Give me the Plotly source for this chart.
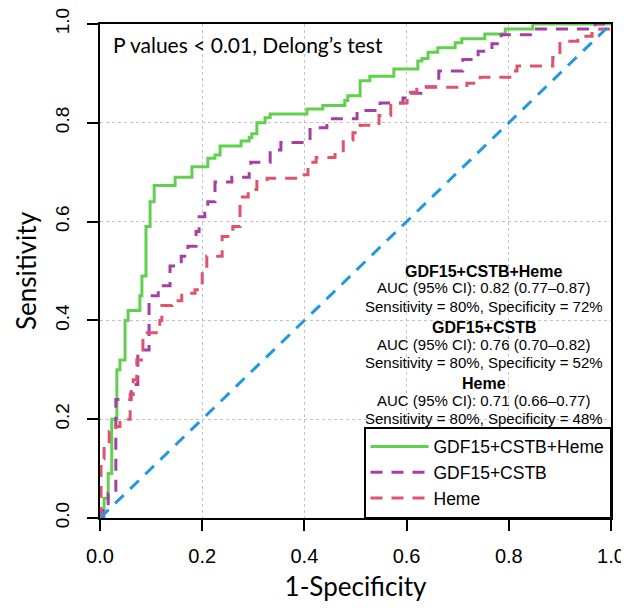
import plotly.graph_objects as go

# ROC step curves (1-Specificity, Sensitivity)
combo3_fpr = [0, 0.008, 0.016, 0.023, 0.033, 0.039, 0.049, 0.055, 0.078, 0.082, 0.090, 0.098,
              0.106, 0.147, 0.180, 0.211, 0.225, 0.235, 0.276, 0.292, 0.297, 0.307, 0.323,
              0.333, 0.405, 0.436, 0.479, 0.485, 0.509, 0.528, 0.575, 0.622, 0.630, 0.642,
              0.661, 0.695, 0.708, 0.753, 0.793, 0.847, 1.0]
combo3_tpr = [0, 0.04, 0.09, 0.20, 0.30, 0.32, 0.40, 0.42, 0.45, 0.49, 0.59, 0.64,
              0.673, 0.69, 0.711, 0.728, 0.735, 0.753, 0.763, 0.77, 0.778, 0.80, 0.81,
              0.818, 0.828, 0.835, 0.845, 0.855, 0.885, 0.894, 0.909, 0.925, 0.93, 0.943,
              0.952, 0.962, 0.97, 0.98, 0.99, 1.0, 1.0]

combo2_fpr = [0, 0.006, 0.016, 0.031, 0.061, 0.074, 0.096, 0.114, 0.137, 0.159, 0.172, 0.188,
              0.194, 0.205, 0.211, 0.225, 0.258, 0.292, 0.295, 0.333, 0.354, 0.411, 0.444,
              0.503, 0.548, 0.593, 0.607, 0.628, 0.663, 0.710, 0.740, 0.767, 0.785, 0.847,
              0.969, 1.0]
combo2_tpr = [0, 0.02, 0.05, 0.24, 0.27, 0.34, 0.45, 0.47, 0.51, 0.53, 0.55, 0.58,
              0.61, 0.625, 0.64, 0.68, 0.69, 0.70, 0.72, 0.745, 0.76, 0.79, 0.808,
              0.825, 0.84, 0.85, 0.86, 0.873, 0.905, 0.928, 0.945, 0.96, 0.978, 0.99,
              1.0, 1.0]

heme_fpr = [0, 0.002, 0.008, 0.018, 0.031, 0.039, 0.059, 0.065, 0.072, 0.084, 0.117, 0.121,
            0.141, 0.160, 0.186, 0.200, 0.209, 0.239, 0.260, 0.274, 0.290, 0.307, 0.327,
            0.391, 0.407, 0.423, 0.460, 0.476, 0.495, 0.509, 0.546, 0.569, 0.601, 0.620,
            0.718, 0.744, 0.802, 0.816, 0.886, 0.900, 0.935, 0.963, 0.978, 1.0]
heme_tpr = [0, 0.12, 0.15, 0.175, 0.185, 0.20, 0.25, 0.28, 0.32, 0.375, 0.40, 0.43,
            0.44, 0.455, 0.462, 0.50, 0.53, 0.57, 0.59, 0.65, 0.665, 0.685, 0.688,
            0.695, 0.72, 0.73, 0.74, 0.765, 0.78, 0.795, 0.815, 0.84, 0.862, 0.872,
            0.88, 0.892, 0.905, 0.915, 0.932, 0.965, 0.975, 0.985, 0.99, 1.0]

diag_x = [0, 1]
diag_y = [0, 1]

series_names = ["GDF15+CSTB+Heme", "GDF15+CSTB", "Heme"]
auc_text = ["AUC (95% CI): 0.82 (0.77\u20130.87)",
            "AUC (95% CI): 0.76 (0.70\u20130.82)",
            "AUC (95% CI): 0.71 (0.66\u20130.77)"]
sens_spec_text = ["Sensitivity = 80%, Specificity = 72%",
                  "Sensitivity = 80%, Specificity = 52%",
                  "Sensitivity = 80%, Specificity = 48%"]
tick_vals = [0, 0.2, 0.4, 0.6, 0.8, 1.0]
tick_text = ["0.0", "0.2", "0.4", "0.6", "0.8", "1.0"]

GREEN = "#61D04F"
PURPLE = "#A43FA5"
RED = "#DF536B"
BLUE = "#2297E6"
SANS = "Liberation Sans"
CAL = "Lato"

fig = go.Figure()
fig.add_trace(go.Scatter(x=combo3_fpr, y=combo3_tpr, mode="lines", name=series_names[0],
                         line=dict(color=GREEN, width=3, shape="hv")))
fig.add_trace(go.Scatter(x=combo2_fpr, y=combo2_tpr, mode="lines", name=series_names[1],
                         line=dict(color=PURPLE, width=3, shape="hv", dash="12px,9px")))
fig.add_trace(go.Scatter(x=heme_fpr, y=heme_tpr, mode="lines", name=series_names[2],
                         line=dict(color=RED, width=3, shape="hv", dash="12px,9px")))
fig.add_trace(go.Scatter(x=diag_x, y=diag_y, mode="lines", showlegend=False,
                         line=dict(color=BLUE, width=3, dash="12px,9px")))

axis_common = dict(range=[0, 1], tickvals=tick_vals, ticktext=tick_text,
                   showgrid=True, gridcolor="#C4C4C4", griddash="dot", gridwidth=1,
                   showline=True, linecolor="black", linewidth=1.5, mirror=True,
                   ticks="outside", ticklen=11, tickwidth=1.5, tickcolor="black",
                   zeroline=False, automargin=False, ticklabeloverflow="allow")

# page body has an 8px default margin, so the figure is sized to fit the window
fig.update_layout(
    width=621, height=602,
    margin=dict(l=92, r=18, t=16, b=92),
    paper_bgcolor="white", plot_bgcolor="white",
    xaxis=dict(**axis_common, ticklabelstandoff=8,
               tickfont=dict(family=SANS, size=20, color="black"),
               title=dict(text="1-Specificity", font=dict(family=CAL, size=26, color="black"),
                          standoff=12)),
    yaxis=dict(**axis_common, tickangle=-90, ticklabelstandoff=11,
               tickfont=dict(family=SANS, size=19, color="black"),
               title=dict(text="Sensitivity", font=dict(family=CAL, size=26, color="black"),
                          standoff=8)),
    legend=dict(x=1, y=0, xanchor="right", yanchor="bottom",
                bgcolor="white", bordercolor="black", borderwidth=1.5,
                font=dict(family=SANS, size=17.5, color="black"),
                itemwidth=58, tracegroupgap=0),
    showlegend=True,
)

fig.add_annotation(x=0.022, y=0.958, xref="x", yref="y", xanchor="left", yanchor="middle",
                   text="P values < 0.01, Delong\u2019s test", showarrow=False,
                   font=dict(family=CAL, size=21, color="black"))

block_x = 0.751
title_y = [0.500, 0.386, 0.272]
for i in range(3):
    fig.add_annotation(x=block_x, y=title_y[i], xref="x", yref="y", showarrow=False,
                       text="<b>" + series_names[i] + "</b>",
                       font=dict(family=SANS, size=16, color="black"))
    fig.add_annotation(x=block_x, y=title_y[i] - 0.034, xref="x", yref="y", showarrow=False,
                       text=auc_text[i], font=dict(family=SANS, size=15, color="black"))
    fig.add_annotation(x=block_x, y=title_y[i] - 0.071, xref="x", yref="y", showarrow=False,
                       text=sens_spec_text[i], font=dict(family=SANS, size=15, color="black"))

fig.write_html("out.html")
